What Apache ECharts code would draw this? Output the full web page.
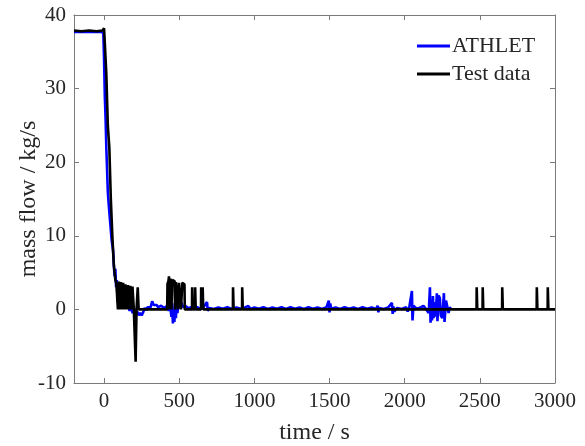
<!DOCTYPE html>
<html>
<head>
<meta charset="utf-8">
<script src="https://cdn.jsdelivr.net/npm/echarts@6/dist/echarts.min.js"></script>
<style>html,body{margin:0;padding:0;background:#fff;}#c{width:585px;height:446px;}</style>
</head>
<body>
<div id="c"></div>
<script>
var xTicks = [0, 500, 1000, 1500, 2000, 2500, 3000];
var yTicks = [-10, 0, 10, 20, 30, 40];

var athletTime = [-200,-100,-20,-5,0,5,10,15,20,25,30,40,50,60,65,70,75,80,85,90,95,100,105,110,115,120,125,130,140,150,160,170,180,190,200,210,220,230,240,250,260,270,280,290,300,310,320,330,340,350,360,380,400,420,430,440,448,452,458,463,468,473,478,483,488,495,505,515,525,540,560,580,600,620,640,660,685,690,700,730,760,790,820,850,880,910,940,960,975,1000,1030,1060,1090,1120,1150,1180,1210,1240,1270,1300,1330,1360,1390,1420,1450,1480,1495,1500,1505,1510,1540,1570,1600,1630,1660,1690,1720,1750,1780,1810,1820,1825,1830,1860,1890,1915,1920,1925,1930,1950,1980,2010,2020,2030,2048,2052,2058,2080,2110,2125,2140,2160,2168,2172,2178,2182,2188,2192,2200,2206,2214,2218,2226,2234,2240,2250,2261,2265,2275,2288,2292,2300,2306];
var athletFlow = [37.7,37.7,37.7,37.6,34,29,26,22,19,16,14.5,12,9.5,8,6,4.5,5.5,3,4,1,3.5,0.6,3.2,0.5,2.5,0.4,1.8,0.3,1.0,0.2,0.6,-0.2,0.3,-0.5,0.1,-0.6,-0.3,-0.8,-0.5,-0.8,-0.4,0.2,-0.1,0.3,0.5,0.3,1.1,0.6,0.4,0.6,0.3,0.5,0.2,0.5,-0.2,0.6,-1.0,0.9,-1.9,-0.4,-1.7,0.8,-1.2,1.1,-0.5,0.7,0.2,0.9,0.3,0.5,0.15,0.3,0.1,0.3,0.05,0.25,1.0,-0.2,0.2,0.05,0.25,0.1,0.3,0.05,0.25,0.1,0.3,0.45,0.05,0.25,0.1,0.3,0.05,0.25,0.1,0.3,0.05,0.3,0.1,0.25,0.05,0.3,0.1,0.25,0.05,0.3,1.2,-0.4,0.8,0.1,0.25,0.05,0.3,0.1,0.25,0.05,0.3,0.1,0.25,0.05,0.5,-0.4,0.2,0.05,0.25,0.9,-0.6,0.4,-0.3,0.2,0.05,0.3,-0.3,0.2,2.5,-1.5,0.5,0.1,0.3,0.5,0.1,-0.5,3.0,-1.8,0.6,-1.5,1.8,-1.2,1.0,-1.0,2.2,-1.6,1.9,1.5,-0.8,-1.2,2.2,-1.7,1.2,1.0,-0.5,0.3,0.1];

var testTime = [-200,-150,-100,-50,-10,0,5,15,25,35,45,55,65,75,82,88,92,97,99,103,105,110,112,118,120,125,127,133,135,140,142,150,152,157,159,165,167,172,174,180,182,187,189,196,198,205,210,213,216,222,224,228,230,420,422,428,432,436,440,442,448,452,454,470,472,476,478,490,492,496,498,510,512,518,520,535,537,585,586,589,590,605,606,609,610,645,646,649,650,655,656,659,660,857,858,861,862,918,919,922,923,2478,2479,2482,2483,2518,2519,2522,2523,2648,2649,2652,2653,2878,2879,2882,2883,2951,2952,2955,2956,3000];
var testFlow = [37.9,37.8,37.9,37.8,37.9,38.2,38.0,32,25,22,15,10,6,4,3.5,3.5,0,0,3.8,3.8,0,0,3.7,3.6,0,0,3.6,3.5,0,0,3.4,3.3,0,0,3.3,3.2,0,0,3.2,3.1,0,0,3.1,3.0,0,0,-7.1,-7.1,0,0,3.0,3.0,0,0,3.5,3.8,4.5,0,0,4.2,0,0,4.0,3.8,0,0,3.7,3.6,0,0,3.6,3.5,0,0,3.6,3.4,0,0,3.0,3.0,0,0,3.0,3.0,0,0,3.0,3.0,0,0,3.0,3.0,0,0,3.0,3.0,0,0,3.0,3.0,0,0,3.0,3.0,0,0,3.0,3.0,0,0,3.0,3.0,0,0,3.0,3.0,0,0,3.0,3.0,0,0];

function zip(a, b) { return a.map(function (t, i) { return [t, b[i]]; }); }

var FONT = '"Liberation Serif", "Times New Roman", serif';
var AX = '#7a7a7a';
var TXT = '#262626';

var chart = echarts.init(document.getElementById('c'), null, {renderer: 'canvas'});
function plain(v) { return String(v); }
function xAx(pos, show) {
  return {
    type: 'value', position: pos, min: -200, max: 3000,
    axisLine: {show: true, onZero: false, lineStyle: {color: AX, width: 1}},
    axisTick: {show: true, inside: true, length: 5, customValues: xTicks, lineStyle: {color: AX}},
    axisLabel: {show: show, customValues: xTicks, formatter: plain, fontFamily: FONT, fontSize: 21, color: TXT, margin: 8},
    splitLine: {show: false},
    name: show ? 'time / s' : '', nameLocation: 'middle', nameGap: 38, nameMoveOverlap: false,
    nameTextStyle: {fontFamily: FONT, fontSize: 24, color: TXT}
  };
}
function yAx(pos, show) {
  return {
    type: 'value', position: pos, min: -10, max: 40, interval: 10,
    axisLine: {show: true, onZero: false, lineStyle: {color: AX, width: 1}},
    axisTick: {show: true, inside: true, length: 5, lineStyle: {color: AX}},
    axisLabel: {show: show, formatter: plain, fontFamily: FONT, fontSize: 21, color: TXT, margin: 8},
    splitLine: {show: false},
    name: show ? 'mass flow / kg/s' : '', nameLocation: 'middle', nameGap: 33, nameMoveOverlap: false,
    nameTextStyle: {fontFamily: FONT, fontSize: 24, color: TXT}
  };
}
chart.setOption({
  animation: false,
  backgroundColor: '#fff',
  grid: {left: 74, right: 30, top: 15, bottom: 63, containLabel: false, outerBoundsMode: 'none'},
  xAxis: [xAx('bottom', true), xAx('top', false)],
  yAxis: [yAx('left', true), yAx('right', false)],
  legend: {
    orient: 'vertical', left: 412, top: 30, itemWidth: 33, itemHeight: 3, itemGap: 6,
    icon: 'rect', textStyle: {fontFamily: FONT, fontSize: 22, color: TXT, padding: [0, 0, 0, -3]},
    data: ['ATHLET', 'Test data']
  },
  series: [
    {name: 'ATHLET', type: 'line', showSymbol: false, symbol: 'none', data: zip(athletTime, athletFlow),
     lineStyle: {color: '#0000ff', width: 2.6}, itemStyle: {color: '#0000ff'}, xAxisIndex: 0, yAxisIndex: 0},
    {name: 'Test data', type: 'line', showSymbol: false, symbol: 'none', data: zip(testTime, testFlow),
     lineStyle: {color: '#000000', width: 2.6}, itemStyle: {color: '#000000'}, xAxisIndex: 0, yAxisIndex: 0}
  ]
});
</script>
</body>
</html>
